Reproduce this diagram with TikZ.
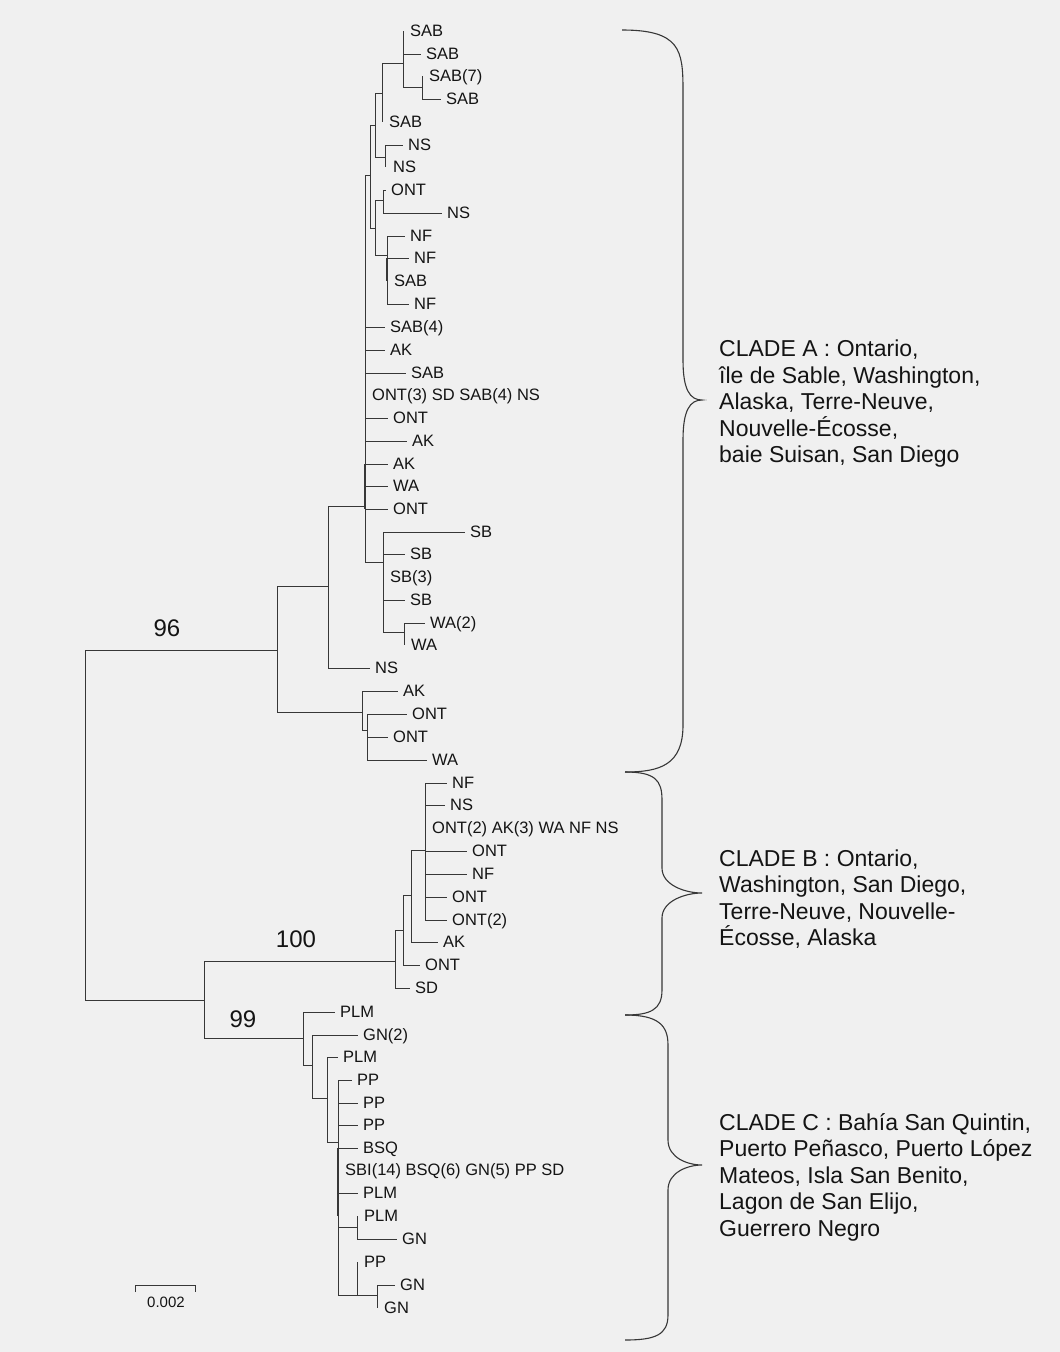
\documentclass[tikz,border=0pt]{standalone}
\usepackage{fontspec}
\setmainfont{Liberation Sans}
\definecolor{bgc}{RGB}{240,240,240}
\definecolor{lnc}{RGB}{55,55,55}
\definecolor{txc}{RGB}{20,20,20}
\begin{document}
\begin{tikzpicture}[x=1pt,y=-1pt,
  leaf/.style={anchor=west, inner xsep=5pt, inner ysep=0pt, text height=11.8pt, text depth=0pt,
    font=\fontsize{16.5}{19}\selectfont, text=txc},
  br/.style={draw=lnc, line width=1pt},
  brthick/.style={draw=lnc, line width=2pt},
  boot/.style={font=\fontsize{24}{28}\selectfont, text=txc, inner sep=0pt},
  clade/.style={anchor=west, align=left, inner sep=0pt, text=txc,
    font=\fontsize{23}{26.5}\selectfont},
  brace/.style={draw=lnc, line width=1.1pt}]
\fill[bgc] (0,0) rectangle (1060,1352);
\useasboundingbox (0,0) rectangle (1060,1352);

% ---------- internal nodes ----------
\coordinate (R) at (85,825);
\coordinate (A0) at (277,650);
\coordinate (A1) at (328,586);
\coordinate (Am) at (365,506);
\coordinate (Au) at (370,175);
\coordinate (SN) at (375,125);
\coordinate (SG) at (382,93);
\coordinate (ST) at (403,63);
\coordinate (S7) at (422,87);
\coordinate (NG) at (385,157);
\coordinate (ON) at (375,228);
\coordinate (OG) at (383,200);
\coordinate (FG) at (387,255);
\coordinate (SBg) at (383,562);
\coordinate (WG) at (404,632);
\coordinate (A2) at (362,712);
\coordinate (A3) at (367,730);
\coordinate (BC) at (204,1000);
\coordinate (B0) at (395,961);
\coordinate (B1) at (403,930);
\coordinate (B2) at (411,895);
\coordinate (B3) at (425,850);
\coordinate (C0) at (303,1038);
\coordinate (C1) at (312,1065);
\coordinate (C2) at (327,1098);
\coordinate (C3) at (338,1142);
\coordinate (C4) at (357,1227);
\coordinate (C5) at (357,1295);
\coordinate (C6) at (377,1295);

% ---------- leaves ----------
\node[leaf] (L1) at (405,31) {SAB};
\node[leaf] (L2) at (421,54) {SAB};
\node[leaf] (L3) at (424,76) {SAB(7)};
\node[leaf] (L4) at (441,99) {SAB};
\node[leaf] (L5) at (384,122) {SAB};
\node[leaf] (L6) at (403,145) {NS};
\node[leaf] (L7) at (388,167) {NS};
\node[leaf] (L8) at (386,190) {ONT};
\node[leaf] (L9) at (442,213) {NS};
\node[leaf] (L10) at (405,236) {NF};
\node[leaf] (L11) at (409,258) {NF};
\node[leaf] (L12) at (389,281) {SAB};
\node[leaf] (L13) at (409,304) {NF};
\node[leaf] (L14) at (385,327) {SAB(4)};
\node[leaf] (L15) at (385,350) {AK};
\node[leaf] (L16) at (406,373) {SAB};
\node[leaf] (L17) at (367,395) {ONT(3) SD SAB(4) NS};
\node[leaf] (L18) at (388,418) {ONT};
\node[leaf] (L19) at (407,441) {AK};
\node[leaf] (L20) at (388,464) {AK};
\node[leaf] (L21) at (388,486) {WA};
\node[leaf] (L22) at (388,509) {ONT};
\node[leaf] (L23) at (465,532) {SB};
\node[leaf] (L24) at (405,554) {SB};
\node[leaf] (L25) at (385,577) {SB(3)};
\node[leaf] (L26) at (405,600) {SB};
\node[leaf] (L27) at (425,623) {WA(2)};
\node[leaf] (L28) at (406,645) {WA};
\node[leaf] (L29) at (370,668) {NS};
\node[leaf] (L30) at (398,691) {AK};
\node[leaf] (L31) at (407,714) {ONT};
\node[leaf] (L32) at (388,737) {ONT};
\node[leaf] (L33) at (427,760) {WA};
\node[leaf] (L34) at (447,783) {NF};
\node[leaf] (L35) at (445,805) {NS};
\node[leaf] (L36) at (427,828) {ONT(2) AK(3) WA NF NS};
\node[leaf] (L37) at (467,851) {ONT};
\node[leaf] (L38) at (467,874) {NF};
\node[leaf] (L39) at (447,897) {ONT};
\node[leaf] (L40) at (447,920) {ONT(2)};
\node[leaf] (L41) at (438,942) {AK};
\node[leaf] (L42) at (420,965) {ONT};
\node[leaf] (L43) at (410,988) {SD};
\node[leaf] (L44) at (335,1012) {PLM};
\node[leaf] (L45) at (358,1035) {GN(2)};
\node[leaf] (L46) at (338,1057) {PLM};
\node[leaf] (L47) at (352,1080) {PP};
\node[leaf] (L48) at (358,1103) {PP};
\node[leaf] (L49) at (358,1125) {PP};
\node[leaf] (L50) at (358,1148) {BSQ};
\node[leaf] (L51) at (340,1170) {SBI(14) BSQ(6) GN(5) PP SD};
\node[leaf] (L52) at (358,1193) {PLM};
\node[leaf] (L53) at (359,1216) {PLM};
\node[leaf] (L54) at (397,1239) {GN};
\node[leaf] (L55) at (359,1262) {PP};
\node[leaf] (L56) at (395,1285) {GN};
\node[leaf] (L57) at (379,1308) {GN};

% ---------- branches ----------
% root
\draw[br] (R|-A0) -- (R|-BC);
\draw[br] (R|-A0) -- (A0);
\draw[br] (R|-BC) -- (BC);
% clade A
\draw[br] (A0|-A1) -- (A0|-A2);
\draw[br] (A0|-A1) -- (A1);
\draw[br] (A0|-A2) -- (A2);
\draw[br] (A1|-Am) -- (A1|-L29.west);
\draw[br] (A1|-Am) -- (Am);
\draw[br] (A1|-L29.west) -- (L29.west);
\draw[br] (Am|-Au) -- (Am|-SBg);
\draw[brthick] (Am|-L20.west) -- (Am|-L22.west);
\draw[br] (Am|-Au) -- (Au);
\foreach \k in {14,15,16,18,19,20,21,22} \draw[br] (Am|-L\k.west) -- (L\k.west);
\draw[br] (Am|-SBg) -- (SBg);
\draw[br] (Au|-SN) -- (Au|-ON);
\draw[br] (Au|-SN) -- (SN);
\draw[br] (Au|-ON) -- (ON);
\draw[br] (SN|-SG) -- (SN|-NG);
\draw[br] (SN|-SG) -- (SG);
\draw[br] (SN|-NG) -- (NG);
\draw[br] (SG|-ST) -- (SG|-L5.west);
\draw[br] (SG|-ST) -- (ST);
\draw[br] (ST|-L1.west) -- (ST|-S7);
\draw[br] (ST|-L2.west) -- (L2.west);
\draw[br] (ST|-S7) -- (S7);
\draw[br] (S7|-L3.west) -- (S7|-L4.west);
\draw[br] (S7|-L4.west) -- (L4.west);
\draw[br] (NG|-L6.west) -- (NG|-L7.west);
\draw[br] (NG|-L6.west) -- (L6.west);
\draw[br] (ON|-OG) -- (ON|-FG);
\draw[br] (ON|-OG) -- (OG);
\draw[br] (ON|-FG) -- (FG);
\draw[br] (OG|-L8.west) -- (OG|-L9.west);
\draw[br] (OG|-L8.west) -- (L8.west);
\draw[br] (OG|-L9.west) -- (L9.west);
\draw[br] (FG|-L10.west) -- (FG|-L13.west);
\draw[brthick] (FG|-L11.west) -- (FG|-L12.west);
\foreach \k in {10,11,13} \draw[br] (FG|-L\k.west) -- (L\k.west);
\draw[br] (SBg|-L23.west) -- (SBg|-WG);
\foreach \k in {23,24,26} \draw[br] (SBg|-L\k.west) -- (L\k.west);
\draw[br] (SBg|-WG) -- (WG);
\draw[br] (WG|-L27.west) -- (WG|-L28.west);
\draw[br] (WG|-L27.west) -- (L27.west);
\draw[br] (A2|-L30.west) -- (A2|-A3);
\draw[br] (A2|-L30.west) -- (L30.west);
\draw[br] (A2|-A3) -- (A3);
\draw[br] (A3|-L31.west) -- (A3|-L33.west);
\foreach \k in {31,32,33} \draw[br] (A3|-L\k.west) -- (L\k.west);
% clades B and C
\draw[br] (BC|-B0) -- (BC|-C0);
\draw[br] (BC|-B0) -- (B0);
\draw[br] (BC|-C0) -- (C0);
\draw[br] (B0|-B1) -- (B0|-L43.west);
\draw[br] (B0|-B1) -- (B1);
\draw[br] (B0|-L43.west) -- (L43.west);
\draw[br] (B1|-B2) -- (B1|-L42.west);
\draw[br] (B1|-B2) -- (B2);
\draw[br] (B1|-L42.west) -- (L42.west);
\draw[br] (B2|-B3) -- (B2|-L41.west);
\draw[br] (B2|-B3) -- (B3);
\draw[br] (B2|-L41.west) -- (L41.west);
\draw[br] (B3|-L34.west) -- (B3|-L40.west);
\foreach \k in {34,35,37,38,39,40} \draw[br] (B3|-L\k.west) -- (L\k.west);
\draw[br] (C0|-L44.west) -- (C0|-C1);
\draw[br] (C0|-L44.west) -- (L44.west);
\draw[br] (C0|-C1) -- (C1);
\draw[br] (C1|-L45.west) -- (C1|-C2);
\draw[br] (C1|-L45.west) -- (L45.west);
\draw[br] (C1|-C2) -- (C2);
\draw[br] (C2|-L46.west) -- (C2|-C3);
\draw[br] (C2|-L46.west) -- (L46.west);
\draw[br] (C2|-C3) -- (C3);
\draw[br] (C3|-L47.west) -- (C3|-C5);
\draw[brthick] (C3|-L50.west) -- (C3|-L53.west);
\foreach \k in {47,48,49,50,52} \draw[br] (C3|-L\k.west) -- (L\k.west);
\draw[br] (C3|-C4) -- (C4);
\draw[br] (C3|-C5) -- (C5);
\draw[br] (C4|-L53.west) -- (C4|-L54.west);
\draw[br] (C4|-L54.west) -- (L54.west);
\draw[br] (C5|-L55.west) -- (C5);
\draw[br] (C5) -- (C6);
\draw[br] (C6|-L56.west) -- (C6|-L57.west);
\draw[br] (C6|-L56.west) -- (L56.west);

% ---------- bootstrap values ----------
\node[boot] (b96) at (167,628) {96};
\node[boot] (b100) at (296,939) {100};
\node[boot] (b99) at (243,1019) {99};

% ---------- scale bar ----------
\coordinate (sbl) at (135,1285);
\coordinate (sbr) at (195,1285);
\draw[br] ([yshift=-7pt]sbl) -- (sbl) -- (sbr) -- ([yshift=-7pt]sbr);
\node[font=\fontsize{15}{17}\selectfont, text=txc, inner sep=0pt] (sbt) at (166,1302) {0.002};

% ---------- braces ----------
\draw[brace] (622,30) .. controls (680,30) and (683,50) .. (683,90)
  -- (683,360) .. controls (683,390) and (690,400) .. (702,400)
  .. controls (690,400) and (683,410) .. (683,440)
  -- (683,725) .. controls (683,765) and (660,772) .. (625,772);
\draw[brace] (625,772) .. controls (655,772) and (662,780) .. (662,800)
  -- (662,868) .. controls (662,885) and (685,893) .. (702,893)
  .. controls (685,893) and (662,901) .. (662,918)
  -- (662,990) .. controls (662,1010) and (650,1015) .. (625,1015);
\draw[brace] (625,1015) .. controls (658,1015) and (668,1025) .. (668,1045)
  -- (668,1140) .. controls (668,1158) and (688,1165) .. (702,1165)
  .. controls (688,1165) and (668,1172) .. (668,1190)
  -- (668,1315) .. controls (668,1335) and (655,1340) .. (625,1340);

% ---------- clade descriptions ----------
\node[clade] (cA) at (719,404) {CLADE A : Ontario,\\île de Sable, Washington,\\Alaska, Terre-Neuve,\\Nouvelle-Écosse,\\baie Suisan, San Diego};
\node[clade] (cB) at (719,899) {CLADE B : Ontario,\\Washington, San Diego,\\Terre-Neuve, Nouvelle-\\Écosse, Alaska};
\node[clade] (cC) at (719,1177) {CLADE C : Bahía San Quintin,\\Puerto Peñasco, Puerto López\\Mateos, Isla San Benito,\\Lagon de San Elijo,\\Guerrero Negro};
\end{tikzpicture}
\end{document}
